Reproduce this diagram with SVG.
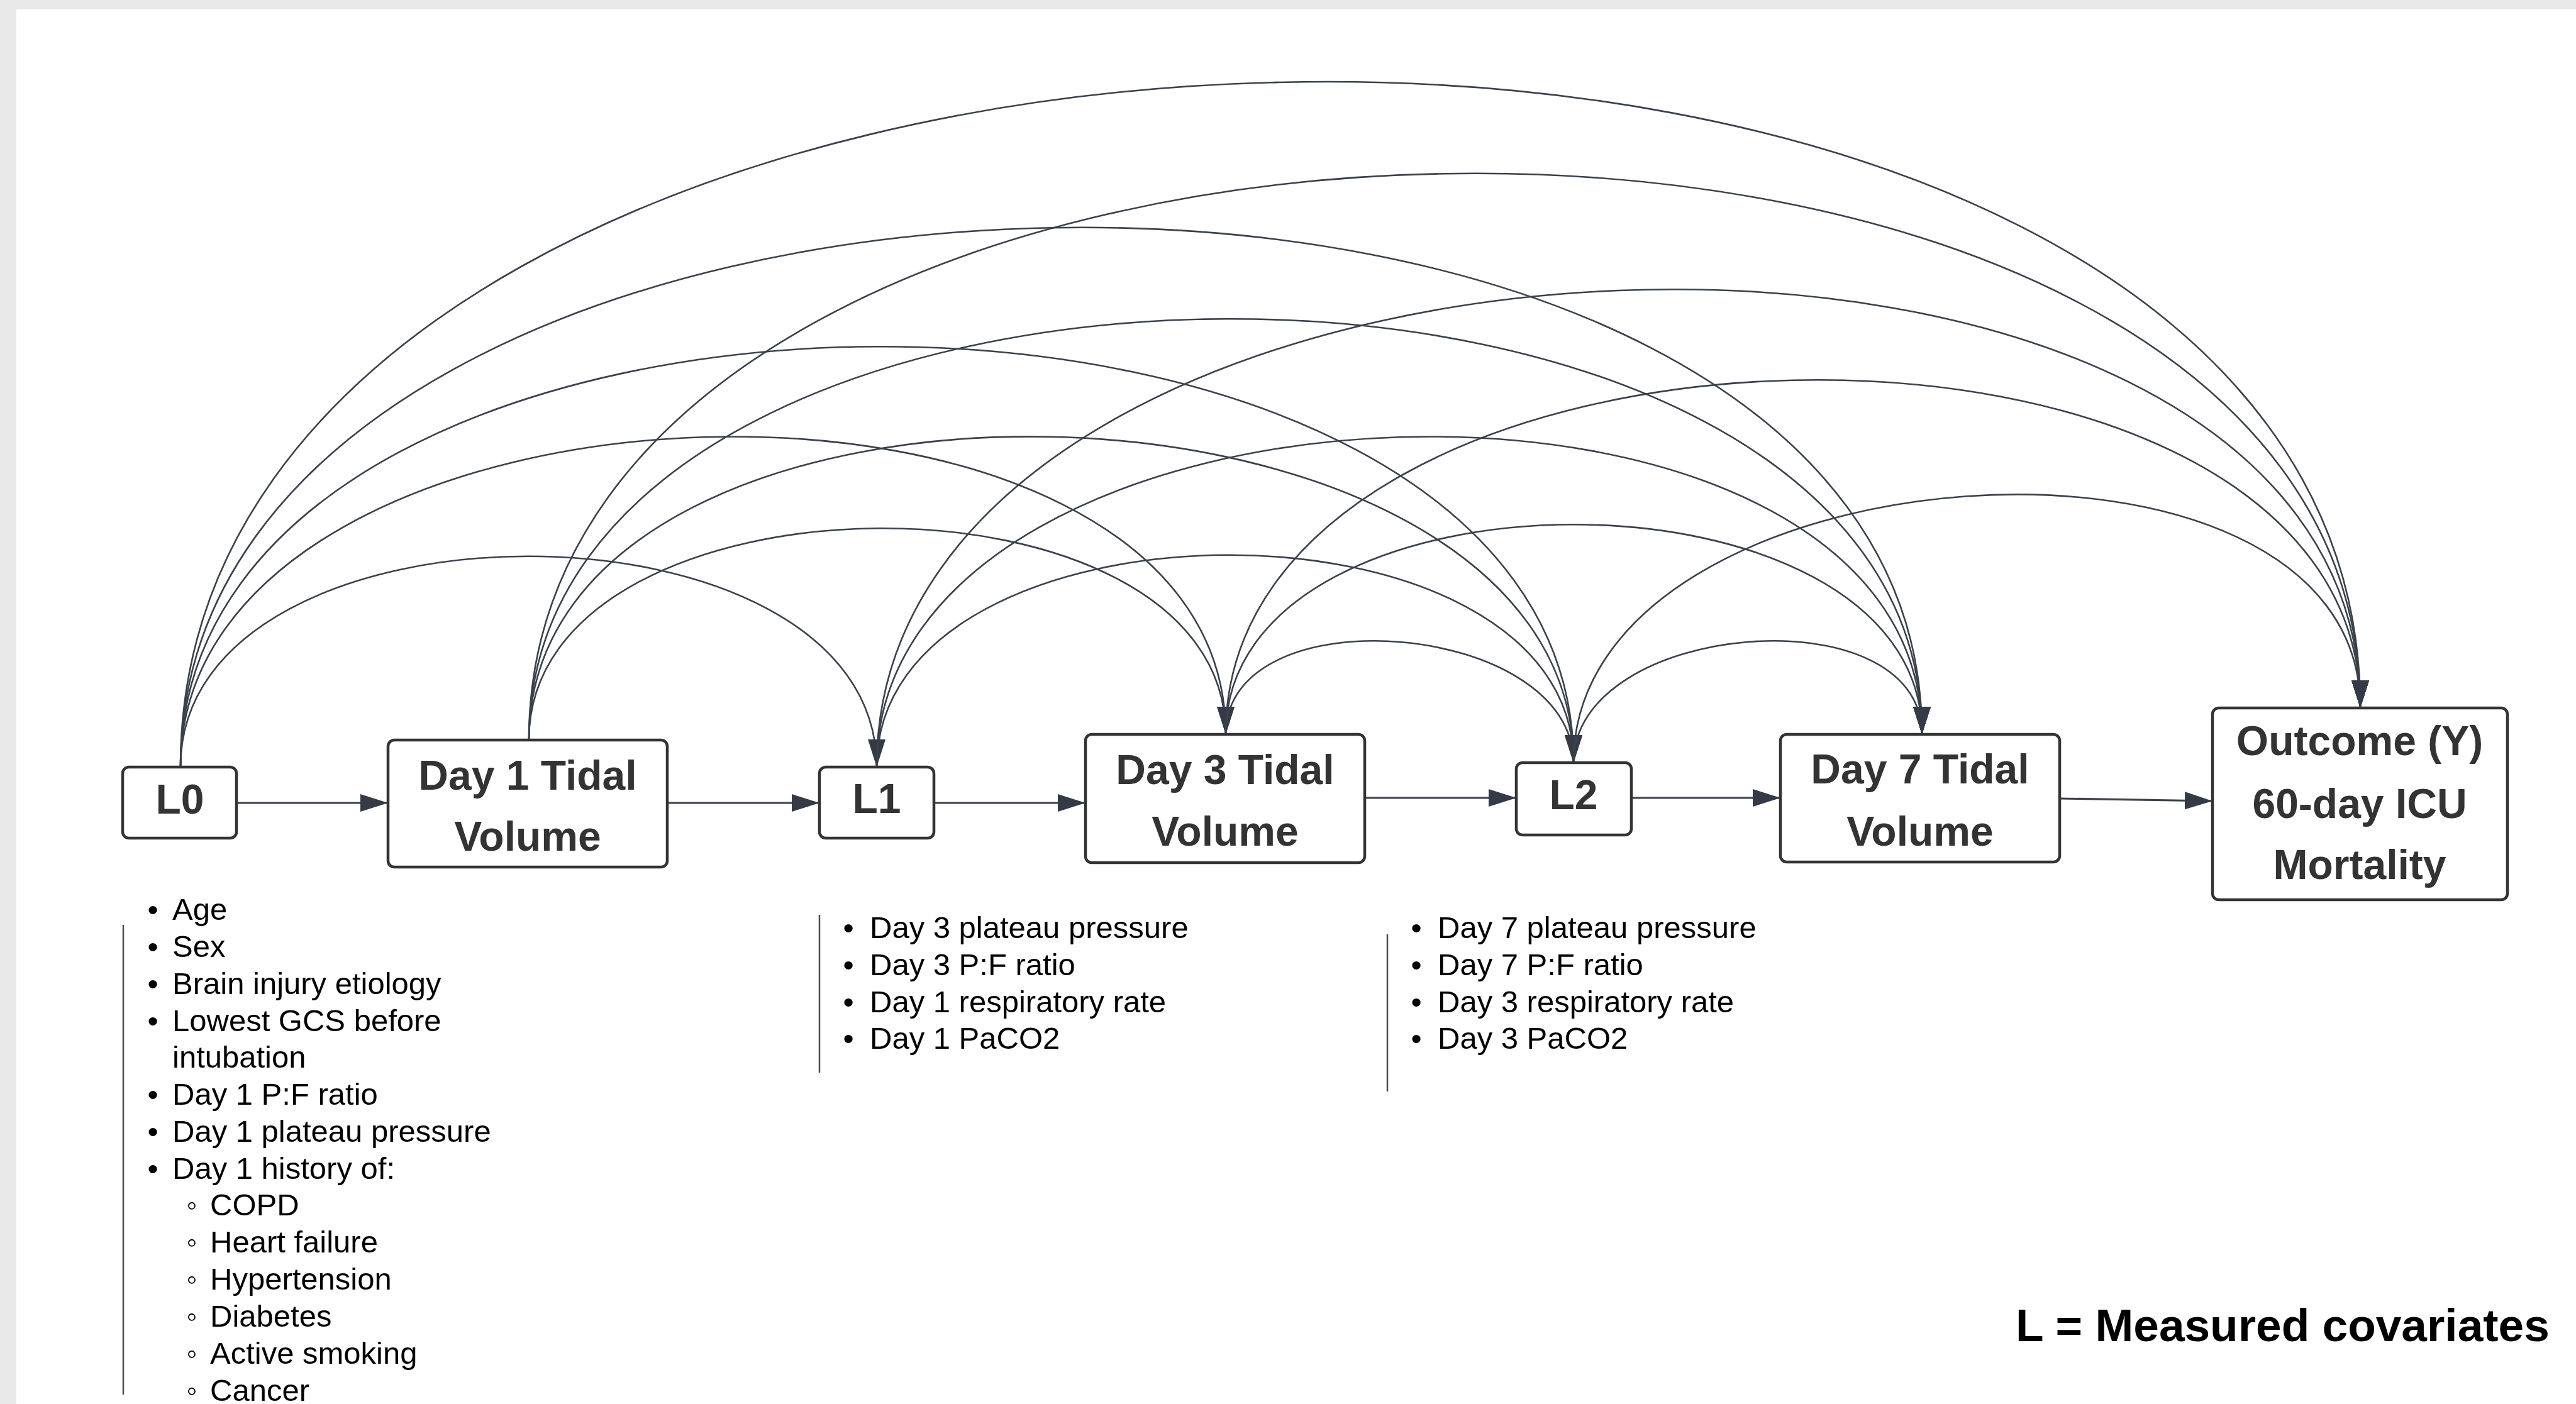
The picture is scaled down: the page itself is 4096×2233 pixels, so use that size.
<svg xmlns="http://www.w3.org/2000/svg" width="4096" height="2233" viewBox="0 0 4096 2233">
<style>
.box{fill:#fff;stroke:#333;stroke-width:4.5}
.nl{font-family:"Liberation Sans",Arial,sans-serif;font-weight:bold;font-size:66px;fill:#333;text-anchor:middle}
.arc{fill:none;stroke:#3a414b;stroke-width:2.6;marker-end:url(#ah)}
.hl{fill:none;stroke:#3a414b;stroke-width:3.2;marker-end:url(#ah)}
.li{font-family:"Liberation Sans",Arial,sans-serif;font-size:49px;fill:#000}
.bu{font-family:"Liberation Sans","DejaVu Sans",sans-serif;font-size:49px;fill:#000;text-anchor:middle}
.vl{stroke:#4d4d4d;stroke-width:2.5;fill:none}
.lg{font-family:"Liberation Sans",Arial,sans-serif;font-weight:bold;font-size:73px;fill:#000}
</style>
<defs>
<marker id="ah" markerUnits="userSpaceOnUse" viewBox="0 0 44 28" markerWidth="44" markerHeight="28" refX="44" refY="14" orient="auto">
<path d="M0,0 L44,14 L0,28 z" fill="#343b46"/>
</marker>
</defs>
<rect x="0" y="0" width="4096" height="2233" fill="#fff"/>
<rect x="0" y="0" width="4096" height="15" fill="#e9e9e9"/>
<rect x="0" y="0" width="26" height="2233" fill="#e9e9e9"/>

<g id="connectors">
<path class="arc" d="M287 1220 C287 773 1394 773 1394 1220"/>
<path class="arc" d="M287 1220 C287 555 1949 503 1949 1168"/>
<path class="arc" d="M287 1220 C287 333 2502 326 2502 1213"/>
<path class="arc" d="M287 1220 C287 111 3056 59 3056 1168"/>
<path class="arc" d="M287 1220 C287 -169 3753 -263 3753 1126"/>
<path class="arc" d="M841 1177 C841 734 1949 725 1949 1168"/>
<path class="arc" d="M841 1177 C841 510 2502 546 2502 1213"/>
<path class="arc" d="M841 1177 C841 290 3056 281 3056 1168"/>
<path class="arc" d="M841 1177 C841 10 3753 -41 3753 1126"/>
<path class="arc" d="M1394 1220 C1394 775 2502 768 2502 1213"/>
<path class="arc" d="M1394 1220 C1394 555 3056 503 3056 1168"/>
<path class="arc" d="M1394 1220 C1394 272 3753 178 3753 1126"/>
<path class="arc" d="M1949 1168 C1949 942 2502 987 2502 1213"/>
<path class="arc" d="M1949 1168 C1949 723 3056 723 3056 1168"/>
<path class="arc" d="M1949 1168 C1949 445 3753 403 3753 1126"/>
<path class="arc" d="M2502 1213 C2502 987 3056 942 3056 1168"/>
<path class="arc" d="M2502 1213 C2502 706 3753 619 3753 1126"/>
<path class="hl" d="M376 1277 L617 1277"/>
<path class="hl" d="M1061 1277 L1303 1277"/>
<path class="hl" d="M1485 1277 L1726 1277"/>
<path class="hl" d="M2170 1269 L2411 1269"/>
<path class="hl" d="M2594 1269 L2831 1269"/>
<path class="hl" d="M3275 1270 L3518 1274"/>
</g>

<g id="L0">
<rect class="box" x="195" y="1220" width="181" height="113" rx="10"/>
<text class="nl" x="286" y="1294">L0</text>
</g>
<g id="day1">
<rect class="box" x="617" y="1177" width="444" height="202" rx="10"/>
<text class="nl" x="839" y="1256">Day 1 Tidal</text>
<text class="nl" x="839" y="1353">Volume</text>
</g>
<g id="L1">
<rect class="box" x="1303" y="1220" width="182" height="113" rx="10"/>
<text class="nl" x="1394" y="1293">L1</text>
</g>
<g id="day3">
<rect class="box" x="1726" y="1168" width="444" height="204" rx="10"/>
<text class="nl" x="1948" y="1247">Day 3 Tidal</text>
<text class="nl" x="1948" y="1345">Volume</text>
</g>
<g id="L2">
<rect class="box" x="2411" y="1213" width="183" height="115" rx="10"/>
<text class="nl" x="2502" y="1287">L2</text>
</g>
<g id="day7">
<rect class="box" x="2831" y="1168" width="444" height="203" rx="10"/>
<text class="nl" x="3053" y="1246">Day 7 Tidal</text>
<text class="nl" x="3053" y="1345">Volume</text>
</g>
<g id="outcome">
<rect class="box" x="3518" y="1126" width="469" height="305" rx="10"/>
<text class="nl" x="3752" y="1201">Outcome (Y)</text>
<text class="nl" x="3752" y="1301">60-day ICU</text>
<text class="nl" x="3752" y="1398">Mortality</text>
</g>

<g id="L0-list">
<line class="vl" x1="196" y1="1471" x2="196" y2="2218"/>
<text class="bu" x="243" y="1463">•</text><text class="li" x="274" y="1463">Age</text>
<text class="bu" x="243" y="1522">•</text><text class="li" x="274" y="1522">Sex</text>
<text class="bu" x="243" y="1581">•</text><text class="li" x="274" y="1581">Brain injury etiology</text>
<text class="bu" x="243" y="1640">•</text><text class="li" x="274" y="1640">Lowest GCS before</text>
<text class="li" x="274" y="1698">intubation</text>
<text class="bu" x="243" y="1757">•</text><text class="li" x="274" y="1757">Day 1 P:F ratio</text>
<text class="bu" x="243" y="1816">•</text><text class="li" x="274" y="1816">Day 1 plateau pressure</text>
<text class="bu" x="243" y="1875">•</text><text class="li" x="274" y="1875">Day 1 history of:</text>
<text class="bu" x="305" y="1933">◦</text><text class="li" x="334" y="1933">COPD</text>
<text class="bu" x="305" y="1992">◦</text><text class="li" x="334" y="1992">Heart failure</text>
<text class="bu" x="305" y="2051">◦</text><text class="li" x="334" y="2051">Hypertension</text>
<text class="bu" x="305" y="2110">◦</text><text class="li" x="334" y="2110">Diabetes</text>
<text class="bu" x="305" y="2169">◦</text><text class="li" x="334" y="2169">Active smoking</text>
<text class="bu" x="305" y="2228">◦</text><text class="li" x="334" y="2228">Cancer</text>
</g>

<g id="L1-list">
<line class="vl" x1="1303" y1="1455" x2="1303" y2="1706"/>
<text class="bu" x="1349" y="1492">•</text><text class="li" x="1383" y="1492">Day 3 plateau pressure</text>
<text class="bu" x="1349" y="1551">•</text><text class="li" x="1383" y="1551">Day 3 P:F ratio</text>
<text class="bu" x="1349" y="1610">•</text><text class="li" x="1383" y="1610">Day 1 respiratory rate</text>
<text class="bu" x="1349" y="1668">•</text><text class="li" x="1383" y="1668">Day 1 PaCO2</text>
</g>

<g id="L2-list">
<line class="vl" x1="2206" y1="1486" x2="2206" y2="1736"/>
<text class="bu" x="2252" y="1492">•</text><text class="li" x="2286" y="1492">Day 7 plateau pressure</text>
<text class="bu" x="2252" y="1551">•</text><text class="li" x="2286" y="1551">Day 7 P:F ratio</text>
<text class="bu" x="2252" y="1610">•</text><text class="li" x="2286" y="1610">Day 3 respiratory rate</text>
<text class="bu" x="2252" y="1668">•</text><text class="li" x="2286" y="1668">Day 3 PaCO2</text>
</g>

<g id="legend">
<text class="lg" x="3205" y="2133">L = Measured covariates</text>
</g>
</svg>
